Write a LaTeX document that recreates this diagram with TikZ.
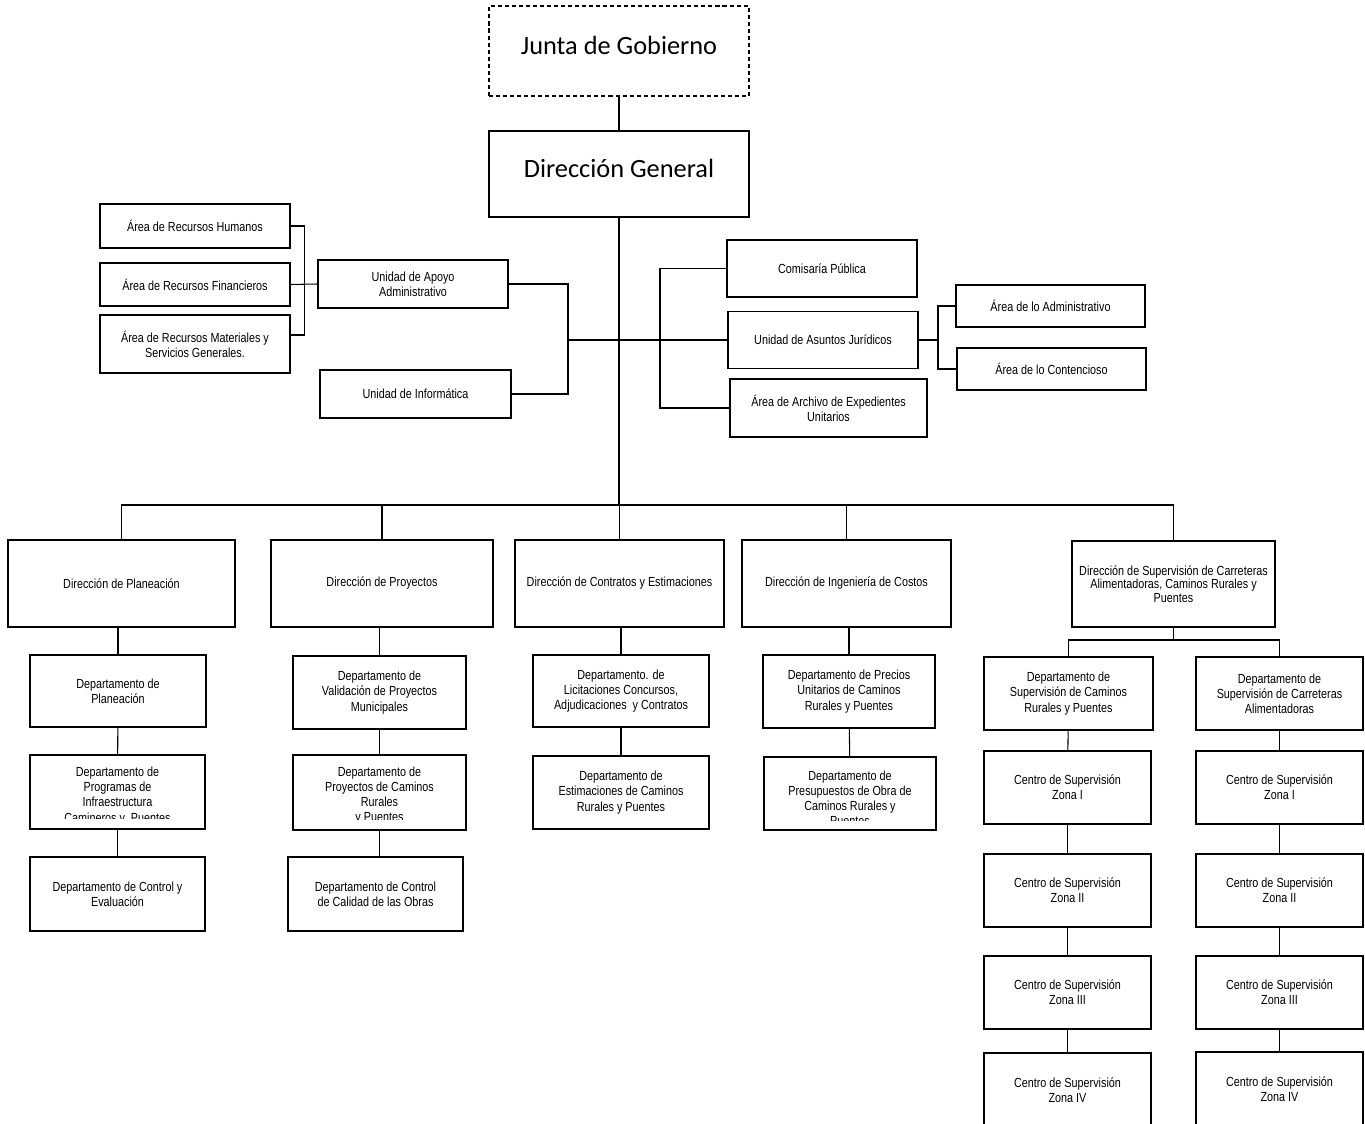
\documentclass[tikz,border=0pt]{standalone}
\usepackage{fontspec}
\newfontfamily\arialn[FakeStretch=0.82]{Liberation Sans}
\newfontfamily\calibri{Carlito}
\begin{document}
\begin{tikzpicture}[x=0.02cm,y=-0.02cm,
	caja/.style={draw,line width=0.6pt,align=center,inner sep=1pt,font=\arialn\fontsize{7.5}{8.6}\selectfont},
	texto/.style={align=center,inner sep=0pt,font=\arialn\fontsize{7.5}{8.6}\selectfont},
	grande/.style={draw,line width=0.6pt,text depth=6.5pt,font=\calibri\fontsize{15}{18}\selectfont},
	tam/.style 2 args={minimum width=#1*0.02cm,minimum height=#2*0.02cm},
	linea/.style={line width=0.6pt},
	tronco/.style={line width=1.6pt}]
		\useasboundingbox (0,0) rectangle (1365,1124);

		\node[grande,tam={260}{90},dash pattern=on 2.3pt off 1.7pt] (junta) at (619,51) {Junta de Gobierno};
		\node[grande,tam={260}{86}] (dg) at (619,174) {Dirección General};

		\node[caja,tam={190}{44}] (rh) at (195,226) {Área de Recursos Humanos};
		\node[caja,tam={190}{43}] (rf) at (195,284.5) {Área de Recursos Financieros};
		\node[caja,tam={190}{58}] (rm) at (195,344) {Área de Recursos Materiales y\\Servicios Generales.};
		\node[caja,tam={190}{48}] (apoyo) at (413,284) {Unidad de Apoyo\\Administrativo};
		\node[caja,tam={191}{48}] (inf) at (415.5,394) {Unidad de Informática};

		\node[caja,tam={190}{57}] (com) at (822,268.5) {Comisaría Pública};
		\node[caja,tam={190}{57}] (jur) at (823,340) {Unidad de Asuntos Jurídicos};
		\node[caja,tam={197}{58}] (arch) at (828.5,408) {Área de Archivo de Expedientes\\Unitarios};
		\node[caja,tam={189}{42}] (adm) at (1050.5,306) {Área de lo Administrativo};
		\node[caja,tam={189}{42}] (cont) at (1051.5,369) {Área de lo Contencioso};

		\node[caja,tam={227}{87}] (dp) at (121.5,583.5) {Dirección de Planeación};
		\node[caja,tam={222}{87}] (dpr) at (382,583.5) {Dirección de Proyectos};
		\node[caja,tam={209}{87}] (dc) at (619.5,583.5) {Dirección de Contratos y Estimaciones};
		\node[caja,tam={209}{87}] (di) at (846.5,583.5) {Dirección de Ingeniería de Costos};
		\node[caja,tam={203}{86},font=\arialn\fontsize{7.5}{7.8}\selectfont] (ds) at (1173.5,584) {Dirección de Supervisión de Carreteras\\Alimentadoras, Caminos Rurales y\\Puentes};

		\node[caja,tam={176}{72}] (dpl) at (118,691) {Departamento de\\Planeación};
		\node[caja,tam={175}{74}] (dprog) at (117.5,792) {};
		\node[caja,tam={175}{74}] (dcont) at (117.5,894) {Departamento de Control y\\Evaluación};

		\node[caja,tam={173}{73}] (dval) at (379.5,692.5) {Departamento de\\Validación de Proyectos\\Municipales};
		\node[caja,tam={173}{75}] (dcam) at (379.5,792.5) {};
		\node[caja,tam={175}{74}] (dcal) at (375.5,894) {Departamento de Control\\de Calidad de las Obras};

		\node[caja,tam={176}{72}] (dlic) at (621,691) {Departamento. de\\Licitaciones Concursos,\\Adjudicaciones~ y Contratos};
		\node[caja,tam={176}{73}] (dest) at (621,792.5) {Departamento de\\Estimaciones de Caminos\\Rurales y Puentes};

		\node[caja,tam={172}{73}] (dpre) at (849,691.5) {Departamento de Precios\\Unitarios de Caminos\\Rurales y Puentes};
		\node[caja,tam={172}{73}] (dpto) at (850,793.5) {};

		\node[caja,tam={169}{73}] (dsc) at (1068.5,693.5) {Departamento de\\Supervisión de Caminos\\Rurales y Puentes};
		\node[caja,tam={167}{73}] (dsa) at (1279.5,693.5) {Departamento de\\Supervisión de Carreteras\\Alimentadoras};

		\node[caja,tam={167}{73}] (c1) at (1067.5,787.5) {Centro de Supervisión\\Zona I};
		\node[caja,tam={167}{73}] (c2) at (1067.5,890.5) {Centro de Supervisión\\Zona II};
		\node[caja,tam={167}{73}] (c3) at (1067.5,992.5) {Centro de Supervisión\\Zona III};
		\node[caja,tam={167}{74}] (c4) at (1067.5,1090) {Centro de Supervisión\\Zona IV};
		\node[caja,tam={167}{73}] (a1) at (1279.5,787.5) {Centro de Supervisión\\Zona I};
		\node[caja,tam={167}{73}] (a2) at (1279.5,890.5) {Centro de Supervisión\\Zona II};
		\node[caja,tam={167}{73}] (a3) at (1279.5,992.5) {Centro de Supervisión\\Zona III};
		\node[caja,tam={167}{75}] (a4) at (1279.5,1089.5) {Centro de Supervisión\\Zona IV};

		\begin{scope}
			\clip ([yshift=-0.1cm]dprog.north west) rectangle ([yshift=0.22cm]dprog.south east);
			\node[texto] at ([yshift=-0.08cm]dprog.center) {Departamento de\\Programas de\\Infraestructura\\Camineros y~ Puentes};
		\end{scope}
		\begin{scope}
			\clip ([yshift=-0.1cm]dcam.north west) rectangle ([yshift=0.22cm]dcam.south east);
			\node[texto] at ([yshift=-0.06cm]dcam.center) {Departamento de\\Proyectos de Caminos\\Rurales\\y Puentes};
		\end{scope}
		\begin{scope}
			\clip ([yshift=-0.1cm]dpto.north west) rectangle ([yshift=0.2cm]dpto.south east);
			\node[texto] at ([yshift=-0.09cm]dpto.center) {Departamento de\\Presupuestos de Obra de\\Caminos Rurales y\\Puentes};
		\end{scope}

		\coordinate (izq) at (568,340);
		\coordinate (der) at (660,340);
		\coordinate (jc) at (938,340);
		\coordinate (bus) at (619,505);
		\coordinate (sb) at (1173.5,640);

		\draw[linea] (junta) -- (dg);
		\draw[tronco] (dg.south) -- (bus);

		\draw[linea] (rh.east) -- ++(14,0) |- ([yshift=0.18cm]rm.east);
		\draw[linea] (rf.east) -- (apoyo.west);
		\draw[linea] (apoyo.east) -| (izq) |- (inf.east);
		\draw[linea] (izq) -- (jur.west);
		\draw[linea] (com.west) -| (der) |- (arch.west);
		\draw[linea] (jur.east) -- (jc);
		\draw[linea] (adm.west) -| (jc) |- (cont.west);

		\draw[linea,line width=1pt] (dp.north) |- (bus) -| (ds.north);
		\draw[linea] (dpr.north) -- (dpr.north |- bus);
		\draw[linea] (dc.north) -- (dc.north |- bus);
		\draw[linea,line width=1pt] (di.north) -- (di.north |- bus);

		\draw[linea] (dpl.north) -- (dpl.north |- dp.south);
		\draw[linea] (dpl) -- (dprog);
		\draw[linea] (dprog) -- (dcont);
		\draw[linea] (dval.north) -- (dval.north |- dpr.south);
		\draw[linea] (dval) -- (dcam);
		\draw[linea] (dcam.south) -- (dcam.south |- dcal.north);
		\draw[linea] (dlic.north) -- (dlic.north |- dc.south);
		\draw[linea] (dlic) -- (dest);
		\draw[linea] (dpre.north) -- (dpre.north |- di.south);
		\draw[linea] (dpre) -- (dpto);

		\draw[linea] (ds) -- (sb);
		\draw[linea] (dsc.north) |- (sb) -| (dsa.north);
		\draw[linea] (dsc) -- (c1);
		\draw[linea] (c1) -- (c2);
		\draw[linea] (c2) -- (c3);
		\draw[linea] (c3) -- (c4);
		\draw[linea] (dsa) -- (a1);
		\draw[linea] (a1) -- (a2);
		\draw[linea] (a2) -- (a3);
		\draw[linea] (a3) -- (a4);
	\end{tikzpicture}
\end{document}
